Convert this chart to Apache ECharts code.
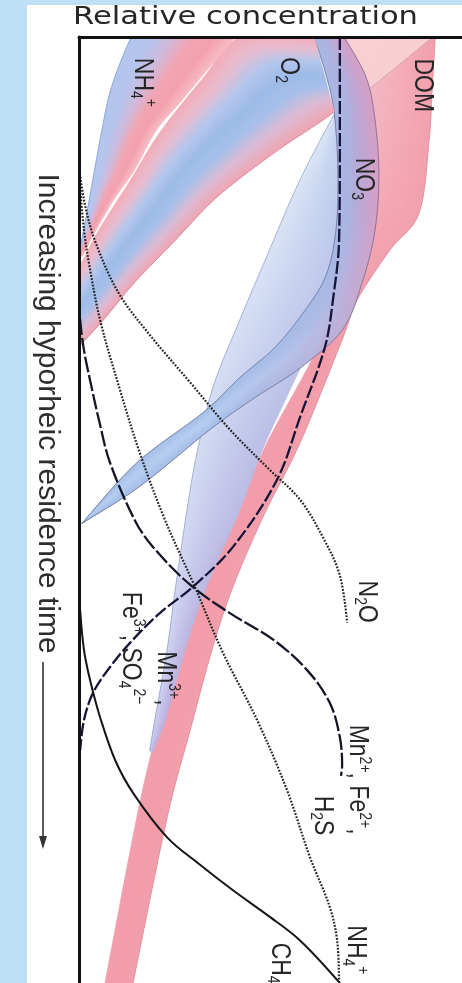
<!DOCTYPE html>
<html>
<head>
<meta charset="utf-8">
<title>Hyporheic residence time</title>
<script src="https://cdn.jsdelivr.net/npm/echarts@6/dist/echarts.min.js"></script>
<style>
  html, body { margin: 0; padding: 0; background: #bfe0f4; }
  #chart { width: 462px; height: 983px; }
</style>
</head>
<body>
<div id="chart"></div>
<script>
// x = relative concentration (0-100), y = residence time (0-100, grows downward)

// shaded bands, each given by two edges matched point by point across the band
const nh4BandLeft  = [[13.6,0],[10.2,3.3],[7.8,6.3],[6.0,9.8],[4.4,13.3],[2.9,16.7],[1.6,19.6],[0.3,22.3]];
const nh4BandRight = [[41.0,0],[33.4,3.5],[26.4,6.9],[20.1,9.9],[14.4,14.1],[9.4,17.0],[5.0,20.0],[0.8,23.2]];

const o2BandUpper = [[61.4,0],[42.3,0],[32.1,4.5],[21.1,10.1],[13.8,14.9],[5.2,20.4],[1.8,23.0],[0.3,24.1]];
const o2BandLower = [[66.6,7.9],[62.9,9.0],[50.4,12.4],[35.8,17.0],[25.1,21.5],[14.6,25.9],[6.8,29.7],[0.3,32.6]];

const no3BandLeft  = [[61.4,0],[64.5,4.0],[66.6,7.9],[67.6,14.1],[67.1,20.4],[64.5,25.2],[59.0,28.9],[51.2,32.8],[42.0,36.0],[32.4,39.7],[15.1,45.0],[0.8,51.4]];
const no3BandRight = [[69.2,0],[74.7,4.0],[77.0,7.9],[78.3,14.1],[77.3,20.4],[73.9,26.0],[68.7,31.0],[57.7,35.0],[46.0,38.1],[34.2,41.5],[15.9,47.5],[0.8,51.4]];

const mnBandLeft  = [[66.6,8.2],[57.7,15.1],[48.6,23.6],[42.0,29.9],[35.0,37.0],[30.8,44.0],[28.2,50.0],[25.1,58.5],[23.0,64.8],[19.8,72.2],[18.5,75.4]];
const mnBandRight = [[68.7,8.8],[69.2,15.6],[68.1,23.6],[62.9,30.4],[55.1,37.3],[47.8,43.7],[42.0,50.0],[32.9,58.5],[27.7,64.8],[22.5,72.2],[19.1,75.6]];

const domBandLeft  = [[69.2,0],[70.8,5.6],[71.3,10.9],[70.8,18.6],[69.5,22.5],[65.5,27.8],[62.4,32.8],[49.1,42.9],[40.2,51.1],[31.6,58.5],[26.4,64.8],[20.4,73.3],[15.1,82.5],[6.8,100]];
const domBandRight = [[93.0,0],[92.2,5.6],[91.4,10.9],[88.8,18.6],[81.2,22.5],[72.6,27.8],[68.7,32.0],[57.7,42.9],[48.3,50.5],[40.2,58.1],[34.7,64.8],[29.0,73.3],[23.0,82.5],[14.1,100]];
const domCapLeft  = [[70.2,0],[71.3,5.6]];
const domCapRight = [[92.4,0],[74.9,5.8]];

// curves
const fe3So4Line = [[68.1,0],[68.1,11.9],[67.9,21.5],[66.3,27.8],[64.2,32.8],[57.7,40.2],[51.7,46.8],[40.2,53.9],[29.8,58.1],[21.1,60.9],[14.1,63.7],[8.1,66.6],[3.7,69.3],[1.3,72.2],[0.3,75.4]];
const mn2Fe2Line = [[0.1,27.8],[0.3,29.9],[1.3,33.1],[2.9,36.3],[5.5,41.0],[8.1,45.0],[14.6,51.1],[19.3,53.9],[29.0,57.9],[39.4,60.9],[50.7,63.7],[59.5,66.9],[65.5,70.4],[68.1,74.0],[68.7,77.0],[68.4,78.1]];
const ch4Line = [[0.3,60.6],[1.3,64.8],[2.9,68.0],[5.5,71.9],[9.4,76.4],[14.1,79.9],[23.0,84.6],[31.6,87.5],[40.2,90.2],[49.1,92.8],[57.7,95.5],[68.1,100]];
const n2oLine = [[0.1,14.1],[1.6,17.8],[4.4,21.8],[10.4,27.1],[18.5,31.5],[29.0,36.5],[39.4,41.5],[49.9,45.8],[57.7,48.9],[63.7,52.9],[68.1,56.9],[70.0,61.9]];
const h2sNh4Line = [[0.1,15.1],[1.3,20.4],[2.6,23.9],[5.5,29.9],[10.7,37.3],[15.9,44.0],[22.5,51.1],[29.8,57.7],[37.6,65.1],[46.5,72.2],[54.3,79.6],[60.3,86.7],[65.5,92.0],[67.4,95.5],[67.9,100]];

// labels (rich text) and where they sit
const labelText = [
  '{m|NH}{sb|4}{sp|+}', '{m|O}{sb|2}', '{m|DOM}', '{m|NO}{sb|3}', '{m|N}{sb|2}{m|O}',
  '{m|Mn}{sp|2+}{m|, Fe}{sp|2+}{m|,}', '{m|H}{sb|2}{m|S}', '{m|NH}{sb|4}{sp|+}', '{m|CH}{sb|4}',
  '{m|Mn}{sp|3+}{m|,}', '{m|Fe}{sp|3+}{m|, SO}{sb|4}{sp|2−}'
];
const labelPos = [[16.7,4.8],[54.6,3.5],[89.8,5.1],[74.4,15.0],[75.2,59.7],[72.8,78.5],[63.7,82.3],[72.1,96.5],[52.5,97.9],[22.7,67.8],[13.6,64.6]];

// band styles (drawn back to front)
const bands = [
  { a: domBandLeft, b: domBandRight, head: ['#eec0ce','#f3b0bc','#f1a0ac'], tail: ['#f19cab','#f49aa7','#f19eaa'],
    along: [[83.8,6.7],[65.5,31.0]], edgeB: 'rgba(215,120,140,0.5)' },
  { a: domCapLeft, b: domCapRight, head: ['#f8d0d4','#f8d0d4'], edgeB: 'rgba(190,140,150,0.7)' },
  { a: mnBandLeft, b: mnBandRight, head: ['#dbe5f6','#c8d7f1','#b9c9ec'], tail: ['#cfd3f0','#c4bfe7','#bcb2df'],
    along: [[65.5,11.9],[23.8,70.1]], edgeA: 'rgba(120,140,190,0.6)' },
  { a: no3BandLeft, b: no3BandRight, head: ['#a7b6e2','#abb0de','#c1a4d2','#d69fc4'], tail: ['#a3bde7','#b6cdef','#a3bde7'],
    along: [[70.8,17.2],[39.4,40.5]], edgeA: 'rgba(80,80,120,0.6)', edgeB: 'rgba(80,80,120,0.6)' },
  { a: o2BandUpper, b: o2BandLower, head: ['#f3abb7','#e7bccf','#b4c6ec','#9cbae8','#a6bfea','#dbbad3','#f0a5b3'],
    edgeB: 'rgba(205,130,150,0.8)' },
  { a: nh4BandLeft, b: nh4BandRight, head: ['#b3c6ee','#b6c4ec','#d0b8da','#f2a4b2','#f39fad','#f6bac3'],
    edgeA: 'rgba(120,150,210,0.7)' }
];

function hexRgb(h) {
  return [parseInt(h.slice(1,3),16), parseInt(h.slice(3,5),16), parseInt(h.slice(5,7),16)];
}
function colorAt(stops, f) {
  const pos = f * (stops.length - 1);
  const i = Math.min(Math.floor(pos), stops.length - 2);
  const t = pos - i;
  const c0 = hexRgb(stops[i]), c1 = hexRgb(stops[i + 1]);
  const c = c0.map((v, k) => Math.round(v + (c1[k] - v) * t));
  return 'rgb(' + c.join(',') + ')';
}
// catmull-rom through the edge points
function spline(pts, k) {
  const out = [];
  for (let i = 0; i < pts.length - 1; i++) {
    const p0 = pts[i - 1] || pts[i], p1 = pts[i], p2 = pts[i + 1], p3 = pts[i + 2] || pts[i + 1];
    for (let j = 0; j < k; j++) {
      const t = j / k, t2 = t * t, t3 = t2 * t;
      const q = [0, 1].map(d => 0.5 * (2 * p1[d] + (p2[d] - p0[d]) * t +
        (2 * p0[d] - 5 * p1[d] + 4 * p2[d] - p3[d]) * t2 + (3 * p1[d] - p0[d] - 3 * p2[d] + p3[d]) * t3));
      out.push(q);
    }
  }
  out.push(pts[pts.length - 1]);
  return out;
}
function lerp2(p, q, f) {
  return [p[0] + (q[0] - p[0]) * f, p[1] + (q[1] - p[1]) * f];
}

function renderBand(params, api) {
  const b = bands[params.dataIndex];
  const A = spline(b.a.map(p => api.coord(p)), 8);
  const B = spline(b.b.map(p => api.coord(p)), 8);
  const n = 28;
  const children = [];
  let g0, g1;
  if (b.along) { g0 = api.coord(b.along[0]); g1 = api.coord(b.along[1]); }
  for (let s = 0; s < n; s++) {
    const f0 = s / n, f1 = (s + 1) / n, fm = (f0 + f1) / 2;
    const side0 = A.map((p, i) => lerp2(p, B[i], f0));
    const side1 = A.map((p, i) => lerp2(p, B[i], f1)).reverse();
    let fill = colorAt(b.head, fm);
    if (b.tail) {
      fill = { type: 'linear', x: g0[0], y: g0[1], x2: g1[0], y2: g1[1], global: true,
        colorStops: [{ offset: 0, color: fill }, { offset: 1, color: colorAt(b.tail, fm) }] };
    }
    children.push({ type: 'polygon', shape: { points: side0.concat(side1) },
      style: { fill: fill, stroke: fill, lineWidth: 0.8 } });
  }
  if (b.edgeA) children.push({ type: 'polyline', shape: { points: A }, style: { stroke: b.edgeA, lineWidth: 0.9, fill: null } });
  if (b.edgeB) children.push({ type: 'polyline', shape: { points: B }, style: { stroke: b.edgeB, lineWidth: 0.9, fill: null } });
  return { type: 'group', children: children };
}

const richStyles = {
  m:  { fontSize: 23, fontFamily: 'Liberation Sans', lineHeight: 26, fill: '#262626', color: '#262626' },
  sb: { fontSize: 14, fontFamily: 'Liberation Sans', verticalAlign: 'bottom', fill: '#262626', color: '#262626' },
  sp: { fontSize: 14, fontFamily: 'Liberation Sans', verticalAlign: 'top', fill: '#262626', color: '#262626' }
};

function renderLabel(params, api) {
  const c = api.coord(labelPos[params.dataIndex]);
  return {
    type: 'text', x: c[0], y: c[1], rotation: -Math.PI / 2, scaleY: 1.2,
    style: { text: labelText[params.dataIndex], rich: richStyles, fill: '#262626',
      font: '23px "Liberation Sans"', align: 'center', verticalAlign: 'middle' }
  };
}

function curve(data, color, width, dash) {
  return { type: 'line', data: data, smooth: 0.35, symbol: 'none', silent: true, z: 4,
    lineStyle: { color: color, width: width, type: dash, cap: 'butt' } };
}

// stretch the title to the width it has in the figure
const measure = document.createElement('canvas').getContext('2d');
measure.font = '24px "DejaVu Sans"';
const titleScale = 345 / measure.measureText('Relative concentration').width;

const chart = echarts.init(document.getElementById('chart'));
chart.setOption({
  animation: false,
  backgroundColor: '#bfe0f4',
  grid: { left: 79, right: 0, top: 37, bottom: 0, show: false },
  xAxis: { type: 'value', min: 0, max: 100, position: 'top', z: 10,
    axisLine: { show: true, onZero: false, lineStyle: { color: '#111', width: 3 } },
    axisTick: { show: false }, axisLabel: { show: false }, splitLine: { show: false } },
  yAxis: { type: 'value', min: 0, max: 100, inverse: true, z: 10,
    axisLine: { show: true, onZero: false, lineStyle: { color: '#111', width: 3 } },
    axisTick: { show: false }, axisLabel: { show: false }, splitLine: { show: false } },
  graphic: [
    { type: 'rect', z: 0, shape: { x: 27, y: 5, width: 435, height: 978 }, style: { fill: '#ffffff' } },
    { type: 'text', z: 1, x: 73, y: 17.5, scaleX: titleScale,
      style: { text: 'Relative concentration', font: '24px "DejaVu Sans"', fill: '#262626',
        align: 'left', verticalAlign: 'middle' } },
    { type: 'text', z: 1, x: 47.5, y: 413.5, rotation: -Math.PI / 2,
      style: { text: 'Increasing hyporheic residence time', font: '30px "Liberation Sans"', fill: '#2e2e2e',
        align: 'center', verticalAlign: 'middle' } },
    { type: 'line', z: 1, shape: { x1: 43, y1: 662, x2: 43, y2: 840 }, style: { stroke: '#333', lineWidth: 1.6 } },
    { type: 'polygon', z: 1, shape: { points: [[39, 836], [47, 836], [43, 849]] }, style: { fill: '#333' } }
  ],
  series: [
    { type: 'custom', coordinateSystem: 'cartesian2d', renderItem: renderBand, clip: true, silent: true, z: 2,
      data: bands.map(b => b.a[0]) },
    curve(fe3So4Line, '#15153a', 2.3, [13, 3]),
    curve(mn2Fe2Line, '#151525', 2.3, [16, 3]),
    curve(ch4Line, '#151515', 2, 'solid'),
    curve(n2oLine, '#262626', 2.2, [1.8, 1.5]),
    curve(h2sNh4Line, '#262626', 2.2, [1.8, 1.5]),
    { type: 'custom', coordinateSystem: 'cartesian2d', renderItem: renderLabel, clip: false, silent: true, z: 6,
      data: labelPos }
  ]
});
</script>
</body>
</html>
